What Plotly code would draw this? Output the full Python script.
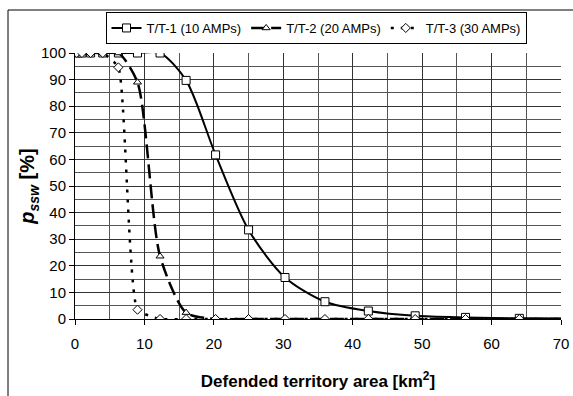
import plotly.graph_objects as go

x_area = [0.25, 1, 2.25, 4, 6.25, 9, 12.25, 16, 20.25, 25, 30.25, 36, 42.25, 49, 56.25, 64, 72.25]
tt1 = [100, 100, 100, 100, 100, 100, 100, 89.7, 61.7, 33.5, 15.6, 6.5, 3.0, 1.2, 0.6, 0.25, 0.1]
tt2 = [100, 100, 100, 100, 100, 89, 23.6, 2.4, 0, 0, 0, 0, 0, 0, 0, 0, 0]
tt3 = [100, 100, 100, 100, 94.6, 3.5, 0, 0, 0, 0, 0, 0, 0, 0, 0, 0, 0]
names = ["T/T-1 (10 AMPs)", "T/T-2 (20 AMPs)", "T/T-3 (30 AMPs)"]

FONT = "Liberation Sans, Arial"

fig = go.Figure()
fig.add_trace(go.Scatter(x=x_area, y=tt1, name=names[0], mode="lines+markers",
                         line=dict(color="black", width=2, shape="spline", smoothing=0.8),
                         marker=dict(symbol="square", size=8, color="white",
                                     line=dict(color="black", width=1))))
fig.add_trace(go.Scatter(x=x_area, y=tt2, name=names[1], mode="lines+markers",
                         line=dict(color="black", width=2.5, shape="spline", smoothing=0.7,
                                   dash="14px,6px"),
                         marker=dict(symbol="triangle-up", size=7, color="white",
                                     line=dict(color="black", width=1))))
fig.add_trace(go.Scatter(x=x_area, y=tt3, name=names[2], mode="lines+markers",
                         line=dict(color="black", width=2.5, shape="spline", smoothing=0.45,
                                   dash="3px,7px"),
                         marker=dict(symbol="diamond", size=7, color="white",
                                     line=dict(color="black", width=1))))

fig.update_layout(
    width=573, height=396,
    margin=dict(l=75, r=12, t=53, b=77),
    paper_bgcolor="white", plot_bgcolor="white",
    showlegend=True,
    legend=dict(orientation="h", x=(316 - 75) / 486, xanchor="center",
                y=1 + (53 - 12) / 266, yanchor="top",
                bordercolor="black", borderwidth=1, bgcolor="white",
                font=dict(family=FONT, size=13, color="black"),
                itemwidth=30, tracegroupgap=0),
    xaxis=dict(range=[0, 70], dtick=10, tick0=0, showgrid=True, gridcolor="#333",
               gridwidth=1, showline=True, linecolor="black", linewidth=1,
               ticks="outside", ticklen=5, tickcolor="black", zeroline=False,
               automargin=False, ticklabelstandoff=6,
               tickfont=dict(family=FONT, size=15, color="black"),
               minor=dict(dtick=5, showgrid=True, gridcolor="#555", gridwidth=1),
               title=dict(text="<b>Defended territory area [km<sup>2</sup>]</b>",
                          font=dict(family=FONT, size=17, color="black"), standoff=24)),
    yaxis=dict(range=[0, 100], dtick=10, tick0=0, showgrid=True, gridcolor="#333",
               gridwidth=1, showline=True, linecolor="black", linewidth=1,
               ticks="outside", ticklen=5, tickcolor="black", zeroline=False,
               automargin=False,
               tickfont=dict(family=FONT, size=15, color="black"),
               minor=dict(dtick=5, showgrid=True, gridcolor="#555", gridwidth=1),
               title=dict(text="<b><i>p</i><sub><i>ssw</i></sub> [%]</b>",
                          font=dict(family=FONT, size=20, color="black"), standoff=0)),
)

fig.add_shape(type="rect", xref="paper", yref="paper",
              x0=(8 - 75) / 486, x1=2, y0=-2, y1=1 + (53 - 10) / 266,
              line=dict(color="black", width=1), fillcolor="rgba(0,0,0,0)", layer="below")

fig.write_html("out.html")
